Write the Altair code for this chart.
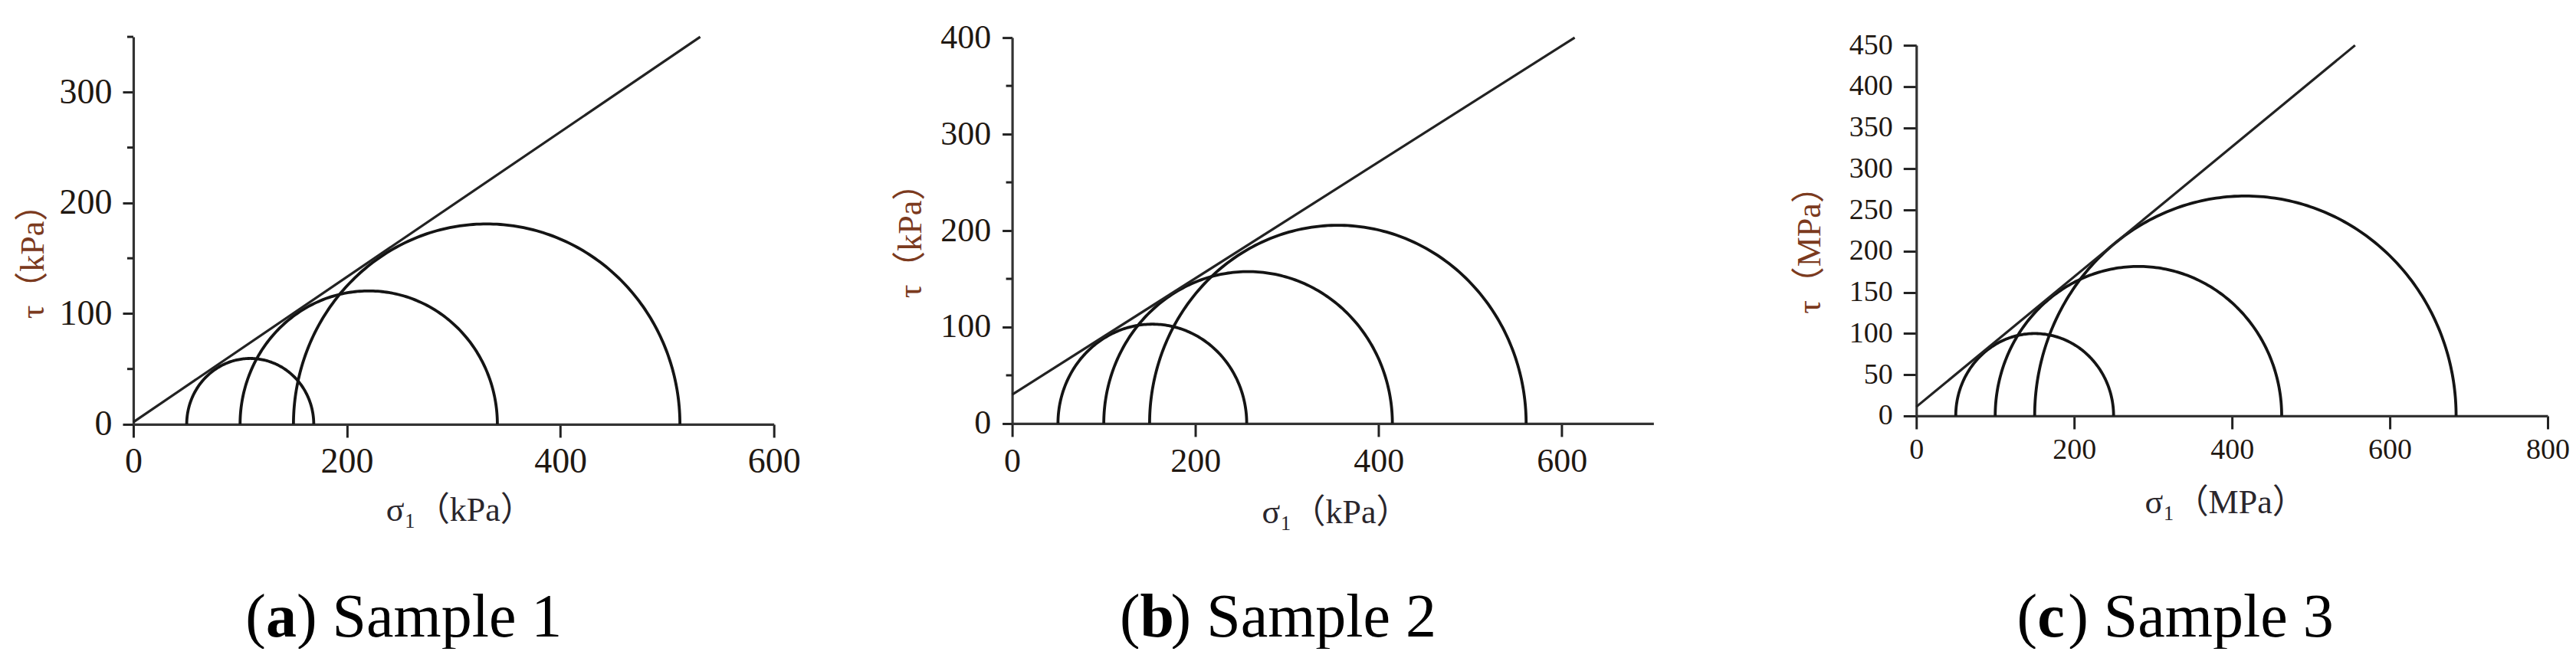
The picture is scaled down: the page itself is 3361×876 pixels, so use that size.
import altair as alt
import numpy as np
import pandas as pd

# ---------------- data ----------------
# Mohr circles: minor (sigma3) and major (sigma1) principal stresses
SIGMA3_A = [50, 100, 150]
SIGMA1_A = [169, 341, 512]
SIGMA3_B = [50, 100, 150]
SIGMA1_B = [256, 415, 561]
SIGMA3_C = [50, 100, 150]
SIGMA1_C = [250, 463, 684]

# strength envelope end points (sigma, tau)
ENV_A_X = [0, 531]
ENV_A_Y = [2, 350]
ENV_B_X = [0, 614]
ENV_B_Y = [30, 400]
ENV_C_X = [0, 556]
ENV_C_Y = [11, 450]

# axes
X_TICKS_A = [0, 200, 400, 600]
Y_TICKS_A = [0, 100, 200, 300]
Y_MINOR_A = [50, 150, 250, 350]
X_TICKS_B = [0, 200, 400, 600]
Y_TICKS_B = [0, 100, 200, 300, 400]
Y_MINOR_B = [50, 150, 250, 350]
X_TICKS_C = [0, 200, 400, 600, 800]
Y_TICKS_C = [0, 50, 100, 150, 200, 250, 300, 350, 400, 450]
Y_MINOR_C = []

UNITS = ["kPa", "kPa", "MPa"]
CAPTION_LETTERS = ["a", "b", "c"]
CAPTION_TEXTS = [") Sample 1", ") Sample 2", ") Sample 3"]

SERIF = "Liberation Serif, Noto Sans CJK SC"
LABEL_COLOR = "#1f1812"
YTITLE_COLOR = "#7b3a1e"
XTITLE_COLOR = "#2a262c"


def circles_df(s3, s1):
    rows = []
    t = np.linspace(0, np.pi, 181)
    for i, (a, b) in enumerate(zip(s3, s1)):
        c = (a + b) / 2.0
        r = (b - a) / 2.0
        for k, tt in enumerate(t):
            rows.append({"circle": i, "k": k,
                         "sigma": c + r * np.cos(tt), "tau": r * np.sin(tt)})
    return pd.DataFrame(rows)


def panel(idx, s3, s1, ex, ey, xticks, yticks, yminor, xdom, ydom,
          width, xrange, height, yrange, label_size,
          ytick, ypad, xpad, ytitle_xy, xtitle_xy, cap_center):
    unit = UNITS[idx]
    xscale = alt.Scale(domain=xdom, range=xrange, nice=False, zero=False)
    yscale = alt.Scale(domain=ydom, range=yrange, nice=False, zero=False)
    xaxis = alt.Axis(values=xticks, grid=False, title="σ₁（" + unit + "）",
                     titleFont=SERIF, titleFontSize=44, titleFontWeight="normal",
                     titleColor=XTITLE_COLOR, titleX=xtitle_xy[0], titleY=xtitle_xy[1],
                     titleAlign="center", titleBaseline="middle",
                     labelFont=SERIF, labelFontSize=label_size, labelColor=LABEL_COLOR,
                     labelPadding=xpad, labelFlush=False, labelOverlap=False,
                     ticks=True, tickSize=17, tickWidth=3, tickColor="#222222",
                     domainColor="#333333", domainWidth=3.2, format="d")
    yaxis = alt.Axis(values=yticks, grid=False, title="τ（" + unit + "）",
                     titleFont=SERIF, titleFontSize=44, titleFontWeight="normal",
                     titleColor=YTITLE_COLOR, titleX=ytitle_xy[0], titleY=ytitle_xy[1],
                     titleAlign="center", titleBaseline="middle", titleAngle=270,
                     labelFont=SERIF, labelFontSize=label_size, labelColor=LABEL_COLOR,
                     labelPadding=ypad, labelFlush=False, labelOverlap=False,
                     ticks=True, tickSize=ytick, tickWidth=3, tickColor="#222222",
                     domainColor="#333333", domainWidth=3.2, format="d")

    cdf = circles_df(s3, s1)
    circ = alt.Chart(cdf).mark_line(color="#141414", strokeWidth=3.8).encode(
        x=alt.X("sigma:Q", scale=xscale, axis=xaxis),
        y=alt.Y("tau:Q", scale=yscale, axis=yaxis),
        detail="circle:N",
        order="k:Q",
    )
    edf = pd.DataFrame({"sigma": ex, "tau": ey})
    env = alt.Chart(edf).mark_line(color="#222222", strokeWidth=3.2).encode(
        x="sigma:Q", y="tau:Q")

    layers = [circ, env]
    if yminor:
        mdf = pd.DataFrame({"tau": yminor})
        minor = alt.Chart(mdf).mark_rule(color="#222222", strokeWidth=3).encode(
            x=alt.value(-8), x2=alt.value(0), y="tau:Q")
        layers.append(minor)

    # caption "(x) Sample n" with bold letter
    fs = 80
    w_open = 0.333 * fs
    w_letter = 0.5 * fs
    w_rest = 4.333 * fs
    start = cap_center - (w_open + w_letter + w_rest) / 2.0
    cap_y = 783
    c1 = alt.Chart(pd.DataFrame({"t": ["("]})).mark_text(
        font="Liberation Serif", fontSize=fs, align="left", baseline="alphabetic",
        color="black").encode(x=alt.value(start), y=alt.value(cap_y), text="t:N")
    c2 = alt.Chart(pd.DataFrame({"t": [CAPTION_LETTERS[idx]]})).mark_text(
        font="Liberation Serif", fontSize=fs, fontWeight="bold", align="left",
        baseline="alphabetic", color="black").encode(
        x=alt.value(start + w_open), y=alt.value(cap_y), text="t:N")
    c3 = alt.Chart(pd.DataFrame({"t": [CAPTION_TEXTS[idx]]})).mark_text(
        font="Liberation Serif", fontSize=fs, align="left", baseline="alphabetic",
        color="black").encode(
        x=alt.value(start + w_open + w_letter), y=alt.value(cap_y), text="t:N")
    layers += [c1, c2, c3]

    return alt.layer(*layers).properties(width=width, height=height)


pa = panel(0, SIGMA3_A, SIGMA1_A, ENV_A_X, ENV_A_Y, X_TICKS_A, Y_TICKS_A, Y_MINOR_A,
           [0, 600], [0, 350], 836, [0, 836], 506, [506, 0], 46,
           14, 14, 10, (-130, 282), (426, 113), 353)
pb = panel(1, SIGMA3_B, SIGMA1_B, ENV_B_X, ENV_B_Y, X_TICKS_B, Y_TICKS_B, Y_MINOR_B,
           [0, 700], [0, 400], 869, [0, 837], 505, [505, 1], 44,
           13, 15, 11, (-132, 255), (422, 117), 347)
pc = panel(2, SIGMA3_C, SIGMA1_C, ENV_C_X, ENV_C_Y, X_TICKS_C, Y_TICKS_C, Y_MINOR_C,
           [0, 800], [0, 450], 824, [0, 824], 495, [495, 11], 38,
           17, 14, 9, (-139, 267), (403, 114), 338)

chart = alt.hconcat(pa, pb, pc, spacing=311, bounds="flush").properties(
    padding={"left": 14, "top": 19, "right": 0, "bottom": 0},
    background="white",
).configure_view(stroke=None)

chart.save("out.html", embed_options={"renderer": "svg", "actions": False})
